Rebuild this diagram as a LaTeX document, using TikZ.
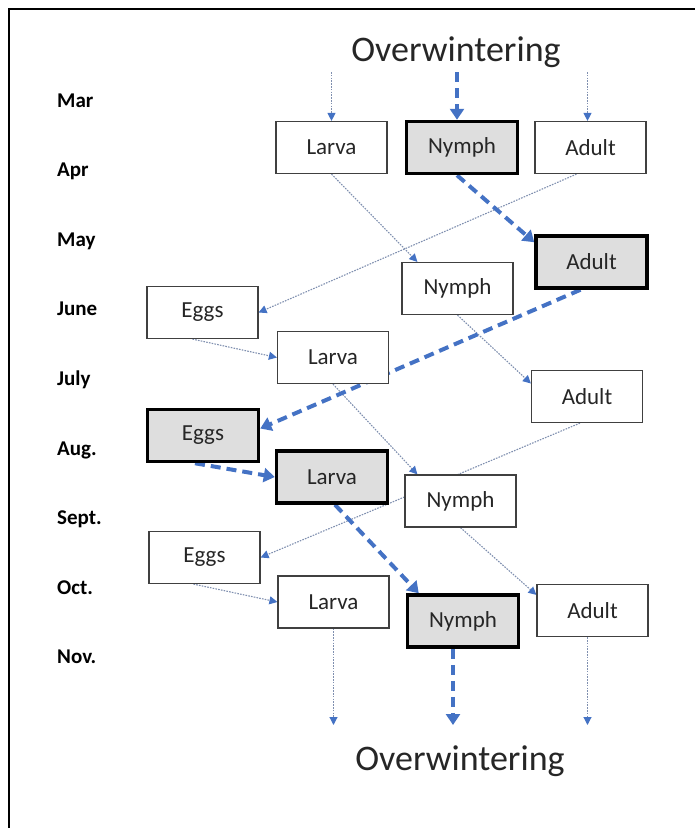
\documentclass[tikz,border=0pt]{standalone}
\usepackage{fontspec}
\setmainfont{Carlito}
\usetikzlibrary{arrows.meta,calc}
\definecolor{ablue}{HTML}{4472C4}
\definecolor{thinline}{HTML}{7F8FAF}
\definecolor{boxgray}{HTML}{DEDEDE}
\definecolor{txt}{HTML}{262626}
\definecolor{boxline}{HTML}{404040}
\pgfdeclarelayer{bg}
\pgfsetlayers{bg,main}
\begin{document}
\begin{tikzpicture}[x=1pt,y=-1pt,
  box/.style={draw=boxline, line width=1.2pt, fill=white, minimum width=111pt, minimum height=52pt, inner sep=0pt, font=\fontsize{23}{25}\selectfont, text=txt},
  hibox/.style={box, draw=black, line width=3.5pt, fill=boxgray},
  month/.style={anchor=base west, font=\fontsize{21}{24}\selectfont\bfseries, inner sep=0pt, text=black},
  over/.style={font=\fontsize{36}{40}\selectfont, text=txt, anchor=base, inner sep=0pt},
  thinarrow/.style={draw=thinline, line width=1.1pt, dash pattern=on 1.6pt off 1.2pt, -{Triangle[width=8pt,length=8pt,color=ablue]}},
  thickarrow/.style={draw=ablue, line width=4pt, dash pattern=on 10pt off 6pt, -{Triangle[width=14pt,length=11pt]}},
]
\useasboundingbox (0,0) rectangle (695,828);
\draw[line width=2pt] (9,828) -- (9,9) -- (695,9);

% titles
\node[over] (owtop) at (456,61) {Overwintering};
\node[over] (owbot) at (460,770) {Overwintering};

% months
\node[month] (m1) at (57,107) {Mar};
\node[month] (m2) at (57,176.6) {Apr};
\node[month] (m3) at (57,246.2) {May};
\node[month] (m4) at (57,315.8) {June};
\node[month] (m5) at (57,385.4) {July};
\node[month] (m6) at (57,455) {Aug.};
\node[month] (m7) at (57,524.6) {Sept.};
\node[month] (m8) at (57,594.2) {Oct.};
\node[month] (m9) at (57,663.8) {Nov.};

% boxes
\node[box]   (L1) at (331.5,147.5) {Larva};
\node[hibox] (N1) at (462,147.5) {Nymph};
\node[box]   (A1) at (590.5,147.5) {Adult};
\node[hibox] (A2) at (591.5,262) {Adult};
\node[box]   (N2) at (457.5,288.5) {Nymph};
\node[box]   (E1) at (202.5,312.5) {Eggs};
\node[box]   (L2) at (333,357.5) {Larva};
\node[box]   (A3) at (587,396.5) {Adult};
\node[hibox] (E2) at (203,435.5) {Eggs};
\node[hibox] (L3) at (332,477) {Larva};
\node[box]   (N3) at (460.5,501) {Nymph};
\node[box]   (E3) at (204.5,557.5) {Eggs};
\node[box]   (L4) at (333.5,602) {Larva};
\node[hibox] (N4) at (463,621) {Nymph};
\node[box]   (A4) at (592.5,610.5) {Adult};

\coordinate (top) at (0,72);
\coordinate (bot) at (0,725);

\begin{pgfonlayer}{bg}
% top arrows
\draw[thinarrow] (L1.north |- top) -- (L1.north);
\coordinate (a1n) at ($(A1.north)+(-3,0)$);
\draw[thinarrow] (a1n |- top) -- (a1n);
\coordinate (n1n) at ($(N1.north)+(-5,0)$);
\draw[thickarrow] (n1n |- top) -- (n1n);

% thin transitions
\draw[thinarrow] (L1.south) -- ($(N2.north west)+(16,0)$);
\draw[thinarrow] ($(A1.south)+(-14,0)$) -- (E1.east);
\draw[thinarrow] ($(E1.south)+(-10,0)$) -- (L2.west);
\draw[thinarrow] (N2.south) -- ($(A3.west)+(0,-13)$);
\draw[thinarrow] (L2.south) -- ($(N3.north west)+(13,0)$);
\draw[thinarrow] ($(A3.south)+(-7,0)$) -- (E3.east);
\draw[thinarrow] ($(E3.south)+(-11,0)$) -- (L4.west);
\draw[thinarrow] (N3.south) -- ($(A4.north west)+(0,11)$);

% thick transitions
\draw[thickarrow] ($(N1.south)+(-5,0)$) -- ($(A2.north west)+(0,8)$);
\draw[thickarrow] ($(A2.south)+(-11,0)$) -- ($(E2.east)+(0,-7)$);
\draw[thickarrow] ($(E2.south)+(-8,0)$) -- (L3.west);
\draw[thickarrow] ($(L3.south)+(3,0)$) -- ($(N4.north west)+(13,0)$);

% bottom arrows
\draw[thinarrow] (L4.south) -- (L4.south |- bot);
\coordinate (a4s) at ($(A4.south)+(-5,0)$);
\draw[thinarrow] (a4s) -- (a4s |- bot);
\coordinate (n4s) at ($(N4.south)+(-10,0)$);
\draw[thickarrow] (n4s) -- (n4s |- bot);
\end{pgfonlayer}
\end{tikzpicture}
\end{document}
